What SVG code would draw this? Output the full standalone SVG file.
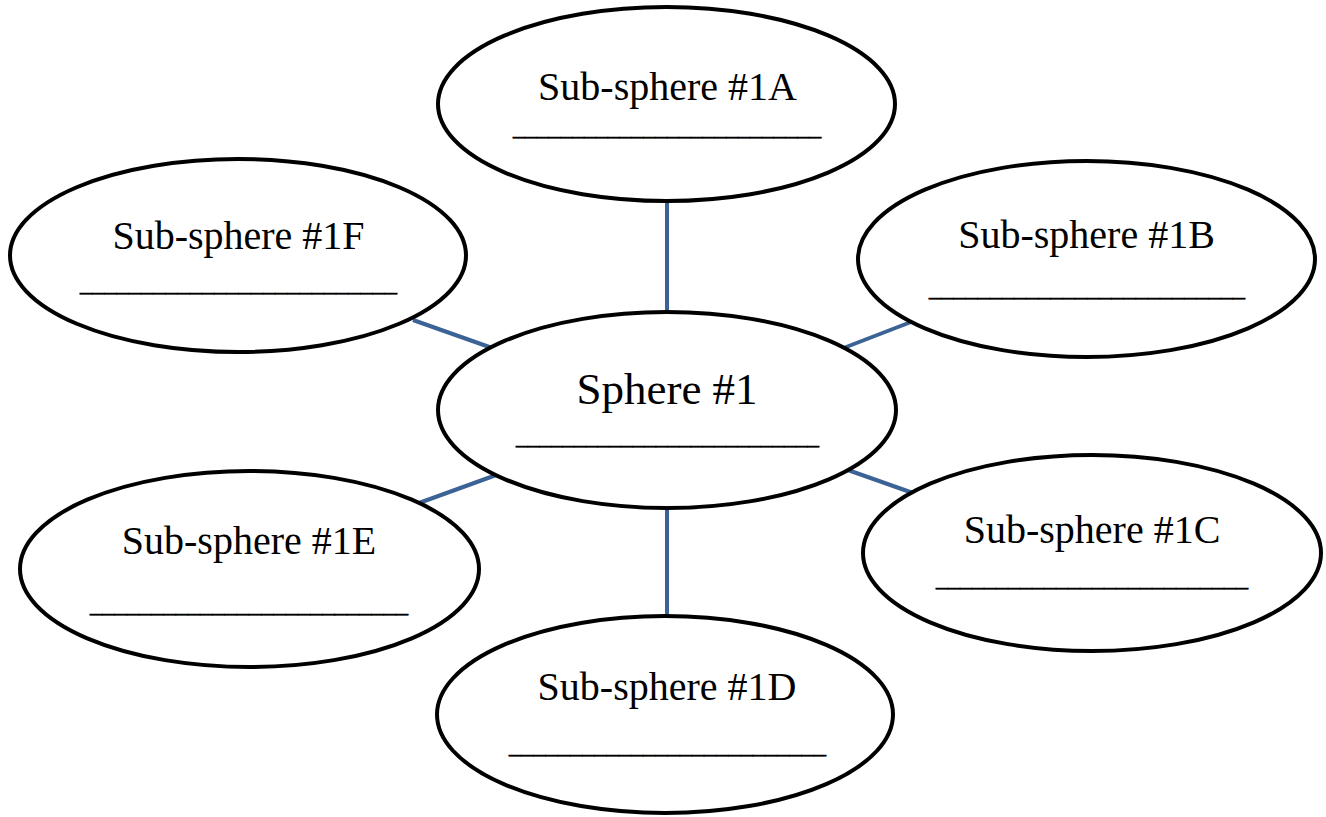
<svg xmlns="http://www.w3.org/2000/svg" width="1326" height="817" viewBox="0 0 1326 817">
<style>
.node ellipse{fill:#fff;stroke:#000;stroke-width:4}
.lbl{font-family:"Liberation Serif","Times New Roman",serif;font-size:40px;fill:#000;text-anchor:middle}
.big{font-size:45px}
.ul{font-family:"Liberation Serif","Times New Roman",serif;font-size:24px;fill:#000;stroke:#000;stroke-width:0.7}
#connectors line{stroke:#3B6395;stroke-width:4}
</style>
<rect width="1326" height="817" fill="#fff"/>
<g id="connectors">
<line x1="667" y1="201" x2="667" y2="312"/>
<line x1="667" y1="508" x2="667" y2="616"/>
<line x1="413" y1="320" x2="495" y2="349"/>
<line x1="841" y1="349" x2="911" y2="322"/>
<line x1="419" y1="503" x2="499" y2="474"/>
<line x1="845" y1="469" x2="913" y2="493"/>
</g>
<g id="sphere1" class="node">
<ellipse cx="667" cy="410" rx="229" ry="98"/>
<text class="lbl big" x="667" y="404">Sphere #1</text>
<text class="ul" x="516" y="443.5" textLength="303" lengthAdjust="spacingAndGlyphs">__________________________</text>
</g>
<g id="sub1A" class="node">
<ellipse cx="666.5" cy="104" rx="228.5" ry="97"/>
<text class="lbl" x="667.5" y="100">Sub-sphere #1A</text>
<text class="ul" x="513" y="134.5" textLength="308" lengthAdjust="spacingAndGlyphs">__________________________</text>
</g>
<g id="sub1B" class="node">
<ellipse cx="1086.5" cy="259" rx="228.5" ry="98"/>
<text class="lbl" x="1086.5" y="248">Sub-sphere #1B</text>
<text class="ul" x="929" y="295.5" textLength="316" lengthAdjust="spacingAndGlyphs">__________________________</text>
</g>
<g id="sub1C" class="node">
<ellipse cx="1092" cy="553" rx="229" ry="98"/>
<text class="lbl" x="1092" y="543">Sub-sphere #1C</text>
<text class="ul" x="936" y="585.5" textLength="312" lengthAdjust="spacingAndGlyphs">__________________________</text>
</g>
<g id="sub1D" class="node">
<ellipse cx="665" cy="714.5" rx="228" ry="98.5"/>
<text class="lbl" x="667" y="700">Sub-sphere #1D</text>
<text class="ul" x="509" y="752.5" textLength="317" lengthAdjust="spacingAndGlyphs">__________________________</text>
</g>
<g id="sub1E" class="node">
<ellipse cx="249.5" cy="569" rx="229.5" ry="98"/>
<text class="lbl" x="249" y="554">Sub-sphere #1E</text>
<text class="ul" x="90" y="611.5" textLength="318" lengthAdjust="spacingAndGlyphs">__________________________</text>
</g>
<g id="sub1F" class="node">
<ellipse cx="238" cy="255.5" rx="228" ry="96.5"/>
<text class="lbl" x="238.5" y="249">Sub-sphere #1F</text>
<text class="ul" x="80" y="290.5" textLength="317" lengthAdjust="spacingAndGlyphs">__________________________</text>
</g>
</svg>
